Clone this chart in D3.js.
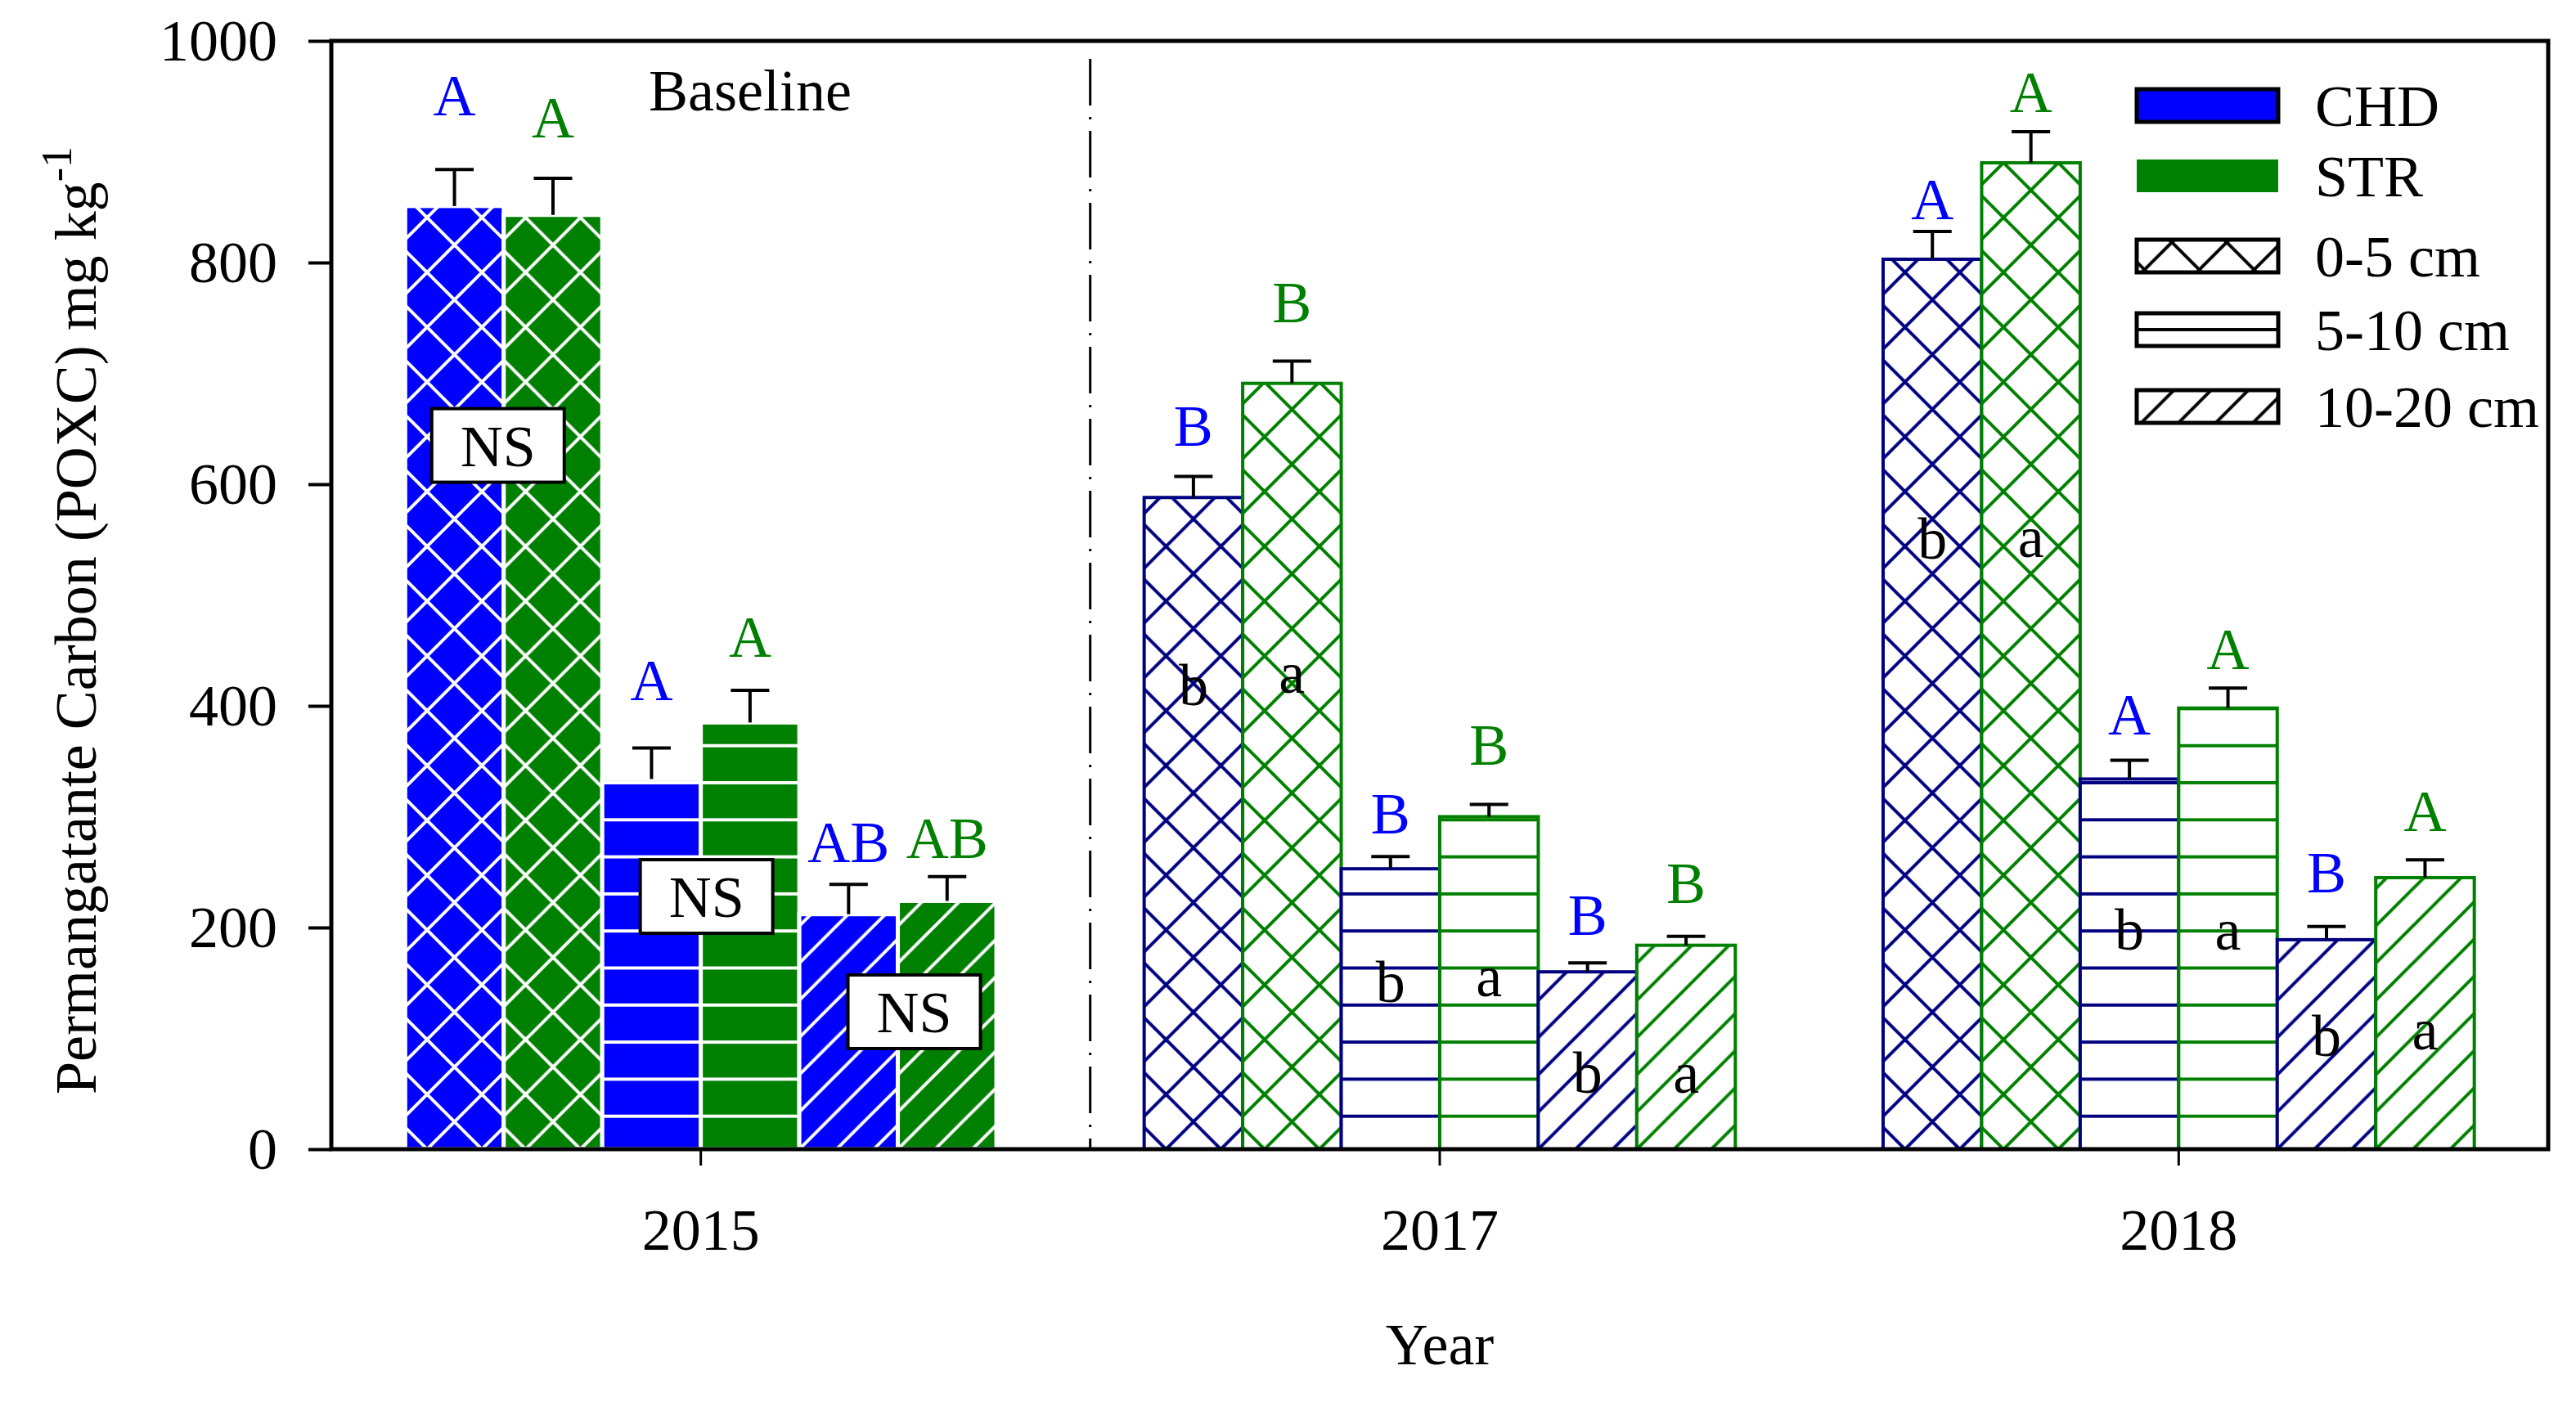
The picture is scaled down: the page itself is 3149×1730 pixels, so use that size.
<!DOCTYPE html>
<html lang="en">
<head>
<meta charset="utf-8">
<title>POXC by year</title>
<script src="https://cdn.jsdelivr.net/npm/d3@7"></script>
<style>
  body { margin: 0; background: #fff; }
  text { font-family: "Liberation Serif", "Times New Roman", serif; }
</style>
</head>
<body>
<script>
// ---- data ----
var years = ["2015", "2017", "2018"];
var depths = ["0-5 cm", "5-10 cm", "10-20 cm"];
var treatments = ["CHD", "STR"];
var yTicks = [0, 200, 400, 600, 800, 1000];

// mean and upper error, [year][depth]
var chdMean = [[851, 334, 212], [588, 253, 160], [803, 334, 189]];
var chdErr  = [[33, 28, 27], [19, 11, 8], [25, 17, 12]];
var strMean = [[843, 385, 224], [691, 300, 184], [890, 398, 245]];
var strErr  = [[33, 29, 22], [20, 11, 8], [28, 18, 16]];

// significance letters and the value level they sit at
var chdUpper   = [["A", "A", "AB"], ["B", "B", "B"], ["A", "A", "B"]];
var strUpper   = [["A", "A", "AB"], ["B", "B", "B"], ["A", "A", "A"]];
var chdUpperAt = [[933, 405, 259], [635, 285, 193], [839, 374, 232]];
var strUpperAt = [[913, 444, 263], [746, 347, 222], [936, 433, 287]];
var chdLower   = [["", "", ""], ["b", "b", "b"], ["b", "b", "b"]];
var strLower   = [["", "", ""], ["a", "a", "a"], ["a", "a", "a"]];
var chdLowerAt = [[0, 0, 0], [401, 133, 51], [533, 180, 84]];
var strLowerAt = [[0, 0, 0], [412, 138, 51], [534, 180, 90]];
var nsAt = [635, 228, 124];   // NS boxes for 2015, per depth

var W = 3149, H = 1730;
var svg = d3.select("body").append("svg")
  .attr("width", W).attr("height", H)
  .attr("viewBox", "0 0 " + W + " " + H);

var x = d3.scaleBand().domain(years).range([405, 3115]);
var inner = d3.scaleBand().domain(d3.range(6))
  .range([x.bandwidth() * 0.1, x.bandwidth() * 0.9]);
var y = d3.scaleLinear().domain([0, 1000]).range([1405, 50]);

var solidFill = { CHD: "#0000FF", STR: "#008000" };
var lineInk = { CHD: "#000080", STR: "#008000" };
var letterInk = { CHD: "#0000FF", STR: "#008000" };
var hatch = ["cross", "horiz", "diag"];
var FS = 72;

// flat table of bars
var rows = [];
years.forEach(function(yr, i) {
  depths.forEach(function(dp, j) {
    treatments.forEach(function(tr, t) {
      var c = t === 0;
      rows.push({
        year: yr, yi: i, depth: j, trt: tr, k: j * 2 + t,
        mean: (c ? chdMean : strMean)[i][j],
        err: (c ? chdErr : strErr)[i][j],
        upper: (c ? chdUpper : strUpper)[i][j],
        upperAt: (c ? chdUpperAt : strUpperAt)[i][j],
        lower: (c ? chdLower : strLower)[i][j],
        lowerAt: (c ? chdLowerAt : strLowerAt)[i][j]
      });
    });
  });
});

var defs = svg.append("defs");

// hatch pattern helper; ox/oy are the pattern origin in the user space of the element
function addPattern(id, kind, bg, ink, ox, oy) {
  var p = defs.append("pattern").attr("id", id)
    .attr("patternUnits", "userSpaceOnUse");
  var w, h, path;
  if (kind === "cross") {
    w = h = 67;
    path = "M-10,-10L77,77M77,-10L-10,77" +
      "M-10,10L10,-10M57,77L77,57M57,-10L77,10M-10,57L10,77";
    p.attr("x", ox - w / 2).attr("y", oy);
  } else if (kind === "horiz") {
    w = 20; h = 45.3;
    path = "M-2," + h / 2 + "L" + (w + 2) + "," + h / 2;
    p.attr("x", 0).attr("y", oy - h / 2);
  } else {
    w = h = 45.5;
    path = "M-10," + (h + 10) + "L" + (w + 10) + ",-10" +
      "M-10,10L10,-10M" + (w - 10) + "," + (h + 10) + "L" + (w + 10) + "," + (h - 10);
    p.attr("x", ox).attr("y", oy);
  }
  p.attr("width", w).attr("height", h);
  p.append("rect").attr("width", w).attr("height", h).attr("fill", bg);
  p.append("path").attr("d", path).attr("stroke", ink)
    .attr("stroke-width", 4).attr("fill", "none");
}

rows.forEach(function(d, idx) {
  d.x0 = x(d.year) + inner(d.k);
  d.cx = d.x0 + inner.bandwidth() / 2;
  var solid = d.yi === 0;
  var kind = hatch[d.depth];
  var ox = kind === "cross" ? d.cx : d.x0;
  var oy = kind === "horiz" ? y(0) - 40.3 : y(0);
  addPattern("pat" + idx, kind, solid ? solidFill[d.trt] : "#fff",
    solid ? "#fff" : lineInk[d.trt], ox, oy);
});

// bars
svg.append("g").selectAll("rect")
  .data(rows).enter().append("rect")
  .attr("x", function(d) { return d.x0; })
  .attr("y", function(d) { return y(d.mean); })
  .attr("width", inner.bandwidth())
  .attr("height", function(d) { return y(0) - y(d.mean); })
  .attr("fill", function(d, i) { return "url(#pat" + i + ")"; })
  .attr("stroke", function(d) { return d.yi === 0 ? "#fff" : lineInk[d.trt]; })
  .attr("stroke-width", function(d) { return d.yi === 0 ? 5 : 4; });

// upper error bars
var eb = svg.append("g").attr("stroke", "#000").attr("stroke-width", 4);
eb.selectAll("line.stem").data(rows).enter().append("line")
  .attr("x1", function(d) { return d.cx; })
  .attr("x2", function(d) { return d.cx; })
  .attr("y1", function(d) { return y(d.mean); })
  .attr("y2", function(d) { return y(d.mean + d.err); });
eb.selectAll("line.cap").data(rows).enter().append("line")
  .attr("x1", function(d) { return d.cx - 23.5; })
  .attr("x2", function(d) { return d.cx + 23.5; })
  .attr("y1", function(d) { return y(d.mean + d.err); })
  .attr("y2", function(d) { return y(d.mean + d.err); });

// letters
svg.append("g").selectAll("text")
  .data(rows).enter().append("text")
  .attr("x", function(d) { return d.cx; })
  .attr("y", function(d) { return y(d.upperAt); })
  .attr("text-anchor", "middle")
  .attr("font-size", FS)
  .attr("fill", function(d) { return letterInk[d.trt]; })
  .text(function(d) { return d.upper; });

svg.append("g").selectAll("text")
  .data(rows.filter(function(d) { return d.lower; })).enter().append("text")
  .attr("x", function(d) { return d.cx; })
  .attr("y", function(d) { return y(d.lowerAt); })
  .attr("text-anchor", "middle")
  .attr("font-size", FS)
  .attr("fill", "#000")
  .text(function(d) { return d.lower; });

// NS boxes (2015), nudged a little off the bar seam like the original
var nsNudge = [-7, 7, 20];
var ns = svg.append("g").selectAll("g")
  .data(nsAt).enter().append("g")
  .attr("transform", function(v, j) {
    return "translate(" + (x(years[0]) + inner(j * 2 + 1) + nsNudge[j]) + "," + y(v) + ")";
  });
ns.append("rect").attr("x", -81).attr("y", -45).attr("width", 162).attr("height", 90)
  .attr("fill", "#fff").attr("stroke", "#000").attr("stroke-width", 4);
ns.append("text").attr("y", 25).attr("text-anchor", "middle")
  .attr("font-size", FS).text("NS");

// axes
var ya = svg.append("g").attr("transform", "translate(405,0)")
  .call(d3.axisLeft(y).tickValues(yTicks).tickSize(28).tickPadding(38)
    .tickFormat(d3.format("d")));
ya.select(".domain").remove();
ya.selectAll("line").attr("stroke-width", 4);
ya.selectAll("text").attr("font-size", FS).attr("font-family", null);

var xa = svg.append("g").attr("transform", "translate(0,1405)")
  .call(d3.axisBottom(x).tickSize(20).tickPadding(52));
xa.select(".domain").remove();
xa.selectAll("line").attr("stroke-width", 3);
xa.selectAll("text").attr("font-size", FS).attr("font-family", null);

// frame
svg.append("rect").attr("x", 405).attr("y", 50)
  .attr("width", 3115 - 405).attr("height", 1405 - 50)
  .attr("fill", "none").attr("stroke", "#000").attr("stroke-width", 5);

// dash-dot divider between baseline year and the rest
var c0 = x(years[0]) + x.bandwidth() / 2, c1 = x(years[1]) + x.bandwidth() / 2;
var divX = c0 + (c1 - c0) * 0.527;
svg.append("line").attr("x1", divX).attr("x2", divX)
  .attr("y1", 72).attr("y2", y(0))
  .attr("stroke", "#000").attr("stroke-width", 3)
  .attr("stroke-dasharray", "57,14,3,14");

svg.append("text").attr("x", 917).attr("y", 135)
  .attr("text-anchor", "middle").attr("font-size", FS).text("Baseline");

// axis titles
svg.append("text").attr("x", c1).attr("y", 1668)
  .attr("text-anchor", "middle").attr("font-size", FS).text("Year");

var yt = svg.append("text")
  .attr("transform", "translate(117,1338) rotate(-90)")
  .attr("font-size", FS);
yt.append("tspan").text("Permangatante Carbon (POXC) mg kg");
yt.append("tspan").attr("dy", -30).attr("font-size", 52).text("-1");

// legend
var legendItems = treatments.concat(depths);
var legRowY = [129, 215, 313, 403, 497];
var legX = 2612, legW = 173;
// swatch patterns live in each row's local space (row group is translated)
addPattern("leg-cross", "cross", "#fff", "#000", 2655 + 33.5, -16.75);
addPattern("leg-horiz", "horiz", "#fff", "#000", 0, 0);
addPattern("leg-diag", "diag", "#fff", "#000", legX, -20);
var leg = svg.append("g").selectAll("g")
  .data(legendItems).enter().append("g")
  .attr("transform", function(d, i) { return "translate(0," + legRowY[i] + ")"; });
leg.append("rect")
  .attr("x", legX).attr("y", -20).attr("width", legW).attr("height", 40)
  .attr("fill", function(d, i) {
    if (i === 0) return solidFill.CHD;
    if (i === 1) return solidFill.STR;
    return "url(#leg-" + hatch[i - 2] + ")";
  })
  .attr("stroke", function(d, i) { return i === 1 ? "none" : "#000"; })
  .attr("stroke-width", 5);
leg.append("text").attr("x", 2830).attr("y", 25)
  .attr("font-size", FS).text(function(d) { return d; });
</script>
</body>
</html>
